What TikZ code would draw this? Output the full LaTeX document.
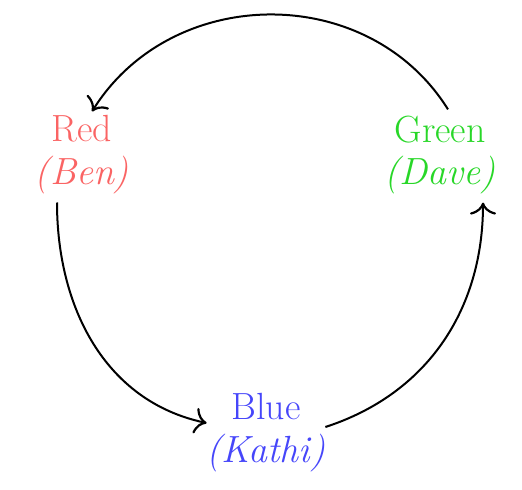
\documentclass[tikz,border=0pt]{standalone}
\usetikzlibrary{arrows.meta}
\definecolor{cred}{RGB}{250,100,100}
\definecolor{cgreen}{RGB}{40,215,40}
\definecolor{cblue}{RGB}{70,70,250}
\begin{document}
\begin{tikzpicture}[x=1bp,y=1bp,
  lbl/.style={align=center,inner sep=2bp,font=\fontsize{38}{43}\selectfont},
  conn/.style={line width=2bp,-{To[length=12bp,width=26bp,line width=2.2bp]}}]
\useasboundingbox (0,0) rectangle (522,490);
\node[lbl,text=cred] (red) at (82,335) {Red\\\textit{(Ben)}};
\node[lbl,text=cgreen] (green) at (440,335) {Green\\\textit{(Dave)}};
\node[lbl,text=cblue] (blue) at (266,57) {Blue\\\textit{(Kathi)}};
\draw[conn] ([xshift=8bp,yshift=4bp]green.north) to[out=122,in=58,looseness=1.08] ([xshift=10bp,yshift=2bp]red.north);
\draw[conn] ([xshift=-25bp,yshift=-6bp]red.south) to[out=-90,in=168] ([xshift=2bp,yshift=10bp]blue.west);
\draw[conn] ([xshift=-2bp,yshift=6bp]blue.east) to[out=18,in=-90] ([xshift=43bp,yshift=-6bp]green.south);
\end{tikzpicture}
\end{document}
